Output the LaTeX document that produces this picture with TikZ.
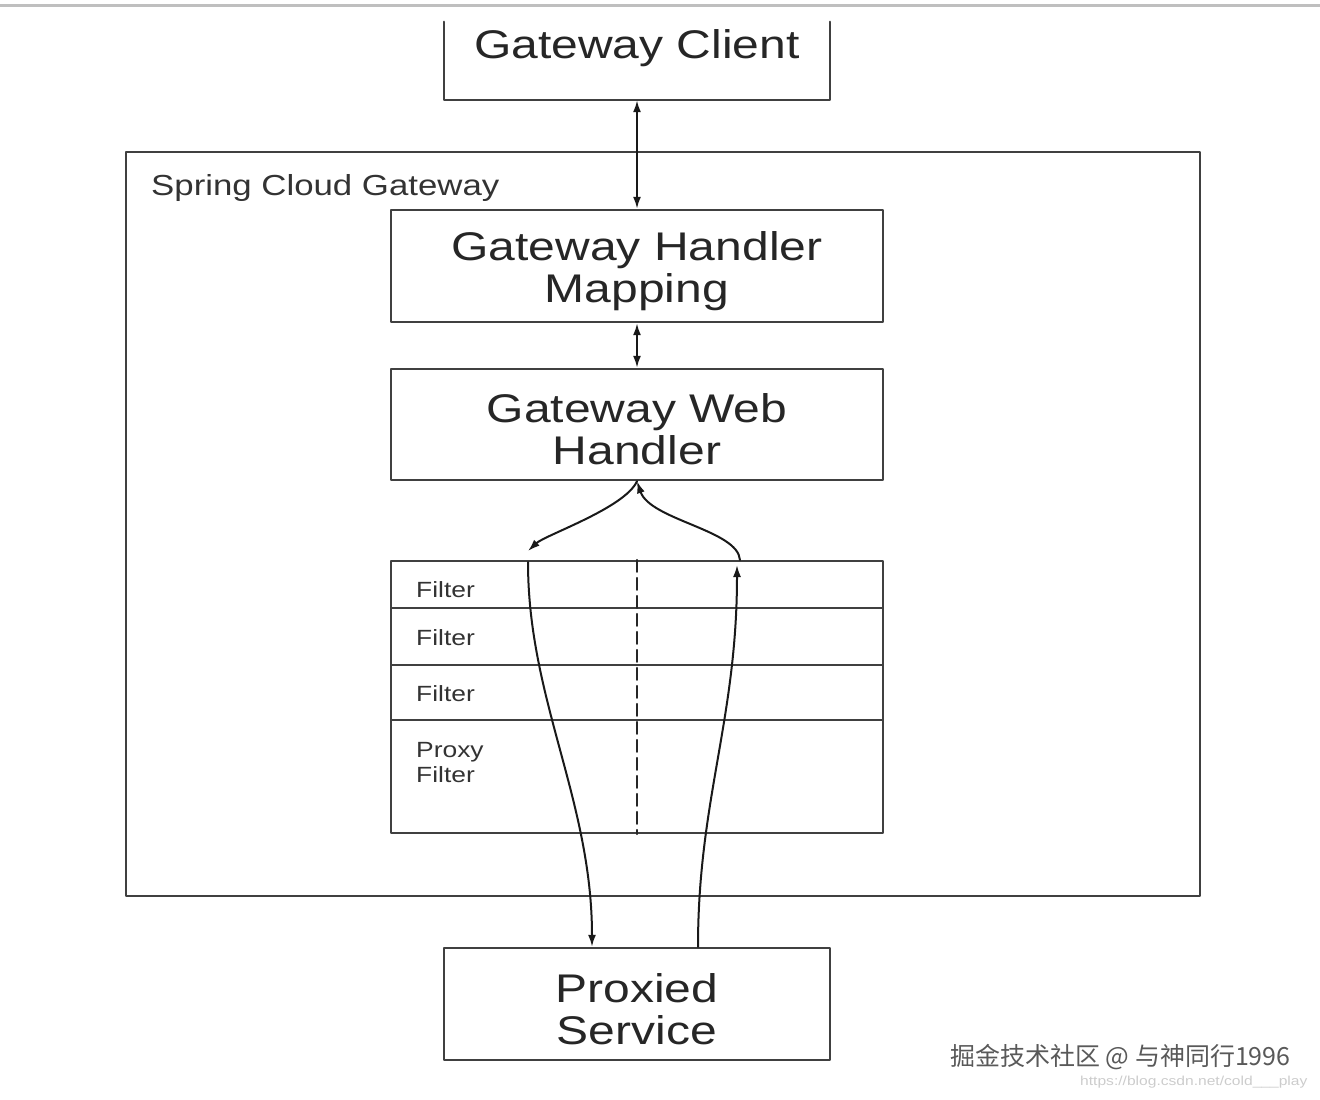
\documentclass[tikz,border=0pt]{standalone}
\usepackage{fontspec}
\setmainfont{Liberation Sans}[FakeStretch=1.2]
\newfontfamily\cjk{Noto Sans CJK SC}
\usetikzlibrary{arrows.meta}

\begin{document}
\begin{tikzpicture}[x=1pt,y=-1pt,>={Latex[length=12pt,width=8pt]}, line join=round, line cap=round,
	box/.style={draw=black!75, line width=2.4pt, inner sep=0pt, minimum width=492pt},
	big/.style={font=\fontsize{40}{42}\selectfont, text=black!85, align=center},
	caption/.style={label={[big, yshift=-5pt]center:#1}},
	tag/.style={font=\fontsize{22}{25}\selectfont, text=black!80, anchor=west, align=left, inner sep=0pt},
	flow/.style={line width=2pt, black!90}]
	\useasboundingbox (0,0) rectangle (1320,1100);
	\draw[black!25, line width=3pt] (0,5) -- (1320,5);
	% client, open at the top
	\node[minimum width=386pt, minimum height=78pt, inner sep=0pt] (client) at (637,61) {};
	\node[big] (clientname) at (637,48) {Gateway Client};
	\draw[black!75, line width=2.4pt] (client.north west) -- (client.south west) -- (client.south east) -- (client.north east);
	% gateway frame
	\node[draw=black!75, line width=2.4pt, minimum width=1074pt, minimum height=744pt] (scg) at (663,524) {};
	\node[tag, font=\fontsize{29}{32}\selectfont] (scgname) at (151,188) {Spring Cloud Gateway};
	\node[box, minimum height=112pt, caption={Gateway Handler\\Mapping}] (mapping) at (637,266) {};
	\node[box, minimum height=111pt, caption={Gateway Web\\Handler}] (web) at (637,424.5) {};
	% filter chain
	\node[box, minimum height=47pt] (f1) at (637,584.5) {};
	\node[box, minimum height=57pt] (f2) at (637,636.5) {};
	\node[box, minimum height=55pt] (f3) at (637,692.5) {};
	\node[box, minimum height=113pt] (pf) at (637,776.5) {};
	\node[tag] (f1name) at (416,590) {Filter};
	\node[tag] (f2name) at (416,638) {Filter};
	\node[tag] (f3name) at (416,694) {Filter};
	\node[tag, anchor=north west] (pfname) at (416,742) {Proxy\\Filter};
	\draw[black!85, line width=2pt, dash pattern=on 12pt off 6pt] (f1.north) -- (pf.south);
	\node[box, minimum width=386pt, minimum height=112pt, caption={Proxied\\Service}] (proxied) at (637,1004) {};
	% connectors
	\draw[flow, <->] (client.south) -- (mapping.north);
	\draw[flow, <->] (mapping) -- (web);
	\coordinate (outleft) at (528,551);
	\coordinate (inleft) at (528,562);
	\coordinate (outright) at (737,565);
	\coordinate (inright) at (740,560);
	\draw[flow, ->] (web.south) .. controls (625,508) and (545,535) .. (outleft);
	\draw[flow, ->] (inleft) .. controls (528,700) and (592,800) .. ([xshift=-45pt]proxied.north);
	\draw[flow, ->] ([xshift=61pt]proxied.north) .. controls (698,800) and (737,720) .. (outright);
	\draw[flow, ->] (inright) .. controls (738,530) and (650,520) .. (web.south);
	% watermark
	\node[font=\cjk\fontsize{25}{27}\selectfont, text=black!65, anchor=west, inner sep=0pt] (wm) at (950,1057) {掘金技术社区 @ 与神同行1996};
	\node[font=\fontsize{13}{15}\selectfont, text=black!20, anchor=west, inner sep=0pt] (url) at (1080,1082) {https://blog.csdn.net/cold\_\_\_play};
\end{tikzpicture}
\end{document}
